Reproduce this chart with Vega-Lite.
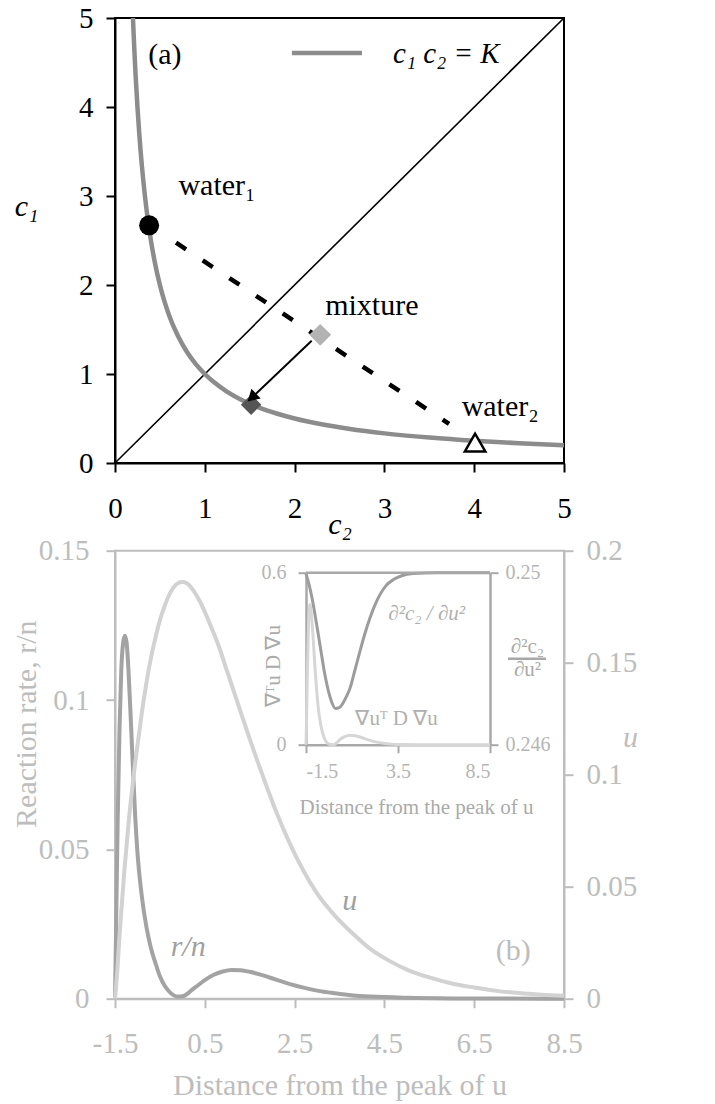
{
  "$schema": "https://vega.github.io/schema/vega-lite/v6.json",
  "background": "white",
  "padding": {"left": 10, "top": 3, "right": 0, "bottom": 4},
  "config": {
    "font": "Liberation Serif",
    "axis": {"grid": false, "titleFontWeight": "normal", "labelFont": "Liberation Serif", "titleFont": "Liberation Serif", "labelOverlap": false}
  },
  "bounds": "flush",
  "spacing": 87.7,
  "vconcat": [
    {
      "width": 449,
      "height": 445,
      "view": {"stroke": "black", "strokeWidth": 2},
      "layer": [
        {
          "data": {"values": [{"c2": 0, "c1": 0}, {"c2": 5, "c1": 5}]},
          "mark": {"type": "line", "color": "black", "strokeWidth": 1.6},
          "encoding": {
            "x": {"field": "c2", "type": "quantitative", "scale": {"domain": [0, 5], "nice": false},
              "axis": {"values": [0, 1, 2, 3, 4, 5], "format": "d", "domainColor": "black", "domainWidth": 2, "tickColor": "black", "tickWidth": 2, "tickSize": 9, "labelFontSize": 29, "labelColor": "black", "labelPadding": 22, "labelFlush": false, "title": "c₂", "titleFontSize": 30, "titleFontStyle": "italic", "titleColor": "black", "titleY": 61, "titleBaseline": "middle"}},
            "y": {"field": "c1", "type": "quantitative", "scale": {"domain": [0, 5], "nice": false},
              "axis": {"values": [0, 1, 2, 3, 4, 5], "format": "d", "domainColor": "black", "domainWidth": 2, "tickColor": "black", "tickWidth": 2, "tickSize": 9, "labelFontSize": 29, "labelColor": "black", "labelPadding": 13, "title": "c₁", "titleFontSize": 30, "titleFontStyle": "italic", "titleColor": "black", "titleAngle": 0, "titleX": -89, "titleY": 188, "titleAlign": "center", "titleBaseline": "middle"}}
          }
        },
        {
          "data": {"values": [
            {"c2": 0.2, "c1": 5}, {"c2": 0.21, "c1": 4.762}, {"c2": 0.22, "c1": 4.545}, {"c2": 0.23, "c1": 4.348},
            {"c2": 0.25, "c1": 4}, {"c2": 0.27, "c1": 3.704}, {"c2": 0.3, "c1": 3.333}, {"c2": 0.33, "c1": 3.03},
            {"c2": 0.36, "c1": 2.778}, {"c2": 0.4, "c1": 2.5}, {"c2": 0.45, "c1": 2.222}, {"c2": 0.5, "c1": 2},
            {"c2": 0.55, "c1": 1.818}, {"c2": 0.6, "c1": 1.667}, {"c2": 0.7, "c1": 1.429}, {"c2": 0.8, "c1": 1.25},
            {"c2": 0.9, "c1": 1.111}, {"c2": 1.0, "c1": 1}, {"c2": 1.1, "c1": 0.909}, {"c2": 1.25, "c1": 0.8},
            {"c2": 1.4, "c1": 0.714}, {"c2": 1.6, "c1": 0.625}, {"c2": 1.8, "c1": 0.556}, {"c2": 2.0, "c1": 0.5},
            {"c2": 2.3, "c1": 0.435}, {"c2": 2.6, "c1": 0.385}, {"c2": 3.0, "c1": 0.333}, {"c2": 3.5, "c1": 0.286},
            {"c2": 4.0, "c1": 0.25}, {"c2": 4.5, "c1": 0.222}, {"c2": 5.0, "c1": 0.2}
          ]},
          "mark": {"type": "line", "color": "#8c8c8c", "strokeWidth": 4.5, "interpolate": "monotone"},
          "encoding": {
            "x": {"field": "c2", "type": "quantitative"},
            "y": {"field": "c1", "type": "quantitative"}
          }
        },
        {
          "data": {"values": [{"c2": 1.97, "c1": 4.607}, {"c2": 2.75, "c1": 4.607}]},
          "mark": {"type": "line", "color": "#8c8c8c", "strokeWidth": 4.5},
          "encoding": {
            "x": {"field": "c2", "type": "quantitative"},
            "y": {"field": "c1", "type": "quantitative"}
          }
        },
        {
          "data": {"values": [{"c2": 0.68, "c1": 2.475}, {"c2": 3.72, "c1": 0.44}]},
          "mark": {"type": "line", "color": "black", "strokeWidth": 4.5, "strokeDash": [12, 20]},
          "encoding": {
            "x": {"field": "c2", "type": "quantitative"},
            "y": {"field": "c1", "type": "quantitative"}
          }
        },
        {
          "data": {"values": [{"c2": 2.19, "c1": 1.374, "c2end": 1.524, "c1end": 0.735}]},
          "mark": {"type": "rule", "color": "black", "strokeWidth": 2},
          "encoding": {
            "x": {"field": "c2", "type": "quantitative"},
            "y": {"field": "c1", "type": "quantitative"},
            "x2": {"field": "c2end"},
            "y2": {"field": "c1end"}
          }
        },
        {
          "data": {"values": [{"c2": 0.38, "c1": 2.67, "name": "water1"}]},
          "mark": {"type": "point", "shape": "circle", "filled": true, "color": "black", "size": 400, "opacity": 1},
          "encoding": {
            "x": {"field": "c2", "type": "quantitative"},
            "y": {"field": "c1", "type": "quantitative"}
          }
        },
        {
          "data": {"values": [{"c2": 2.285, "c1": 1.44, "name": "mixture"}]},
          "mark": {"type": "point", "shape": "diamond", "filled": true, "color": "#b3b3b3", "size": 480, "opacity": 1},
          "encoding": {
            "x": {"field": "c2", "type": "quantitative"},
            "y": {"field": "c1", "type": "quantitative"}
          }
        },
        {
          "data": {"values": [{"c2": 1.516, "c1": 0.655, "name": "equilibrium"}]},
          "mark": {"type": "point", "shape": "diamond", "filled": true, "color": "#555555", "size": 420, "opacity": 1},
          "encoding": {
            "x": {"field": "c2", "type": "quantitative"},
            "y": {"field": "c1", "type": "quantitative"}
          }
        },
        {
          "data": {"values": [{"c2": 1.524, "c1": 0.735, "name": "arrowhead"}]},
          "mark": {"type": "point", "shape": "triangle-up", "filled": true, "color": "black", "size": 180, "angle": 226.5, "opacity": 1},
          "encoding": {
            "x": {"field": "c2", "type": "quantitative"},
            "y": {"field": "c1", "type": "quantitative"}
          }
        },
        {
          "data": {"values": [{"c2": 4.01, "c1": 0.23, "name": "water2"}]},
          "mark": {"type": "point", "shape": "triangle-up", "filled": true, "fill": "white", "stroke": "black", "strokeWidth": 2.5, "size": 420, "opacity": 1},
          "encoding": {
            "x": {"field": "c2", "type": "quantitative"},
            "y": {"field": "c1", "type": "quantitative"}
          }
        },
        {
          "data": {"values": [
            {"c2": 0.37, "c1": 4.58, "label": "(a)"},
            {"c2": 0.706, "c1": 3.115, "label": "water₁"},
            {"c2": 2.34, "c1": 1.767, "label": "mixture"},
            {"c2": 3.86, "c1": 0.625, "label": "water₂"}
          ]},
          "mark": {"type": "text", "align": "left", "baseline": "middle", "fontSize": 30, "color": "black"},
          "encoding": {
            "x": {"field": "c2", "type": "quantitative"},
            "y": {"field": "c1", "type": "quantitative"},
            "text": {"field": "label"}
          }
        },
        {
          "data": {"values": [{"c2": 3.69, "c1": 4.59, "label": "c₁ c₂ = K"}]},
          "mark": {"type": "text", "align": "center", "baseline": "middle", "fontSize": 29, "fontStyle": "italic", "color": "black"},
          "encoding": {
            "x": {"field": "c2", "type": "quantitative"},
            "y": {"field": "c1", "type": "quantitative"},
            "text": {"field": "label"}
          }
        }
      ]
    },
    {
      "width": 449,
      "height": 448,
      "view": {"stroke": "#bdbdbd", "strokeWidth": 2},
      "resolve": {"scale": {"x": "independent", "y": "independent"}},
      "layer": [
        {
          "resolve": {"scale": {"y": "independent"}},
          "layer": [
            {
              "layer": [
                {
                  "data": {"values": [
                    {"x": -1.5, "r": 0}, {"x": -1.47, "r": 0.03}, {"x": -1.44, "r": 0.06}, {"x": -1.4, "r": 0.09},
                    {"x": -1.36, "r": 0.11}, {"x": -1.32, "r": 0.119}, {"x": -1.28, "r": 0.1215}, {"x": -1.24, "r": 0.119},
                    {"x": -1.2, "r": 0.11}, {"x": -1.15, "r": 0.094}, {"x": -1.1, "r": 0.077}, {"x": -1.05, "r": 0.061},
                    {"x": -1.0, "r": 0.049}, {"x": -0.9, "r": 0.034}, {"x": -0.8, "r": 0.024}, {"x": -0.7, "r": 0.017},
                    {"x": -0.6, "r": 0.012}, {"x": -0.5, "r": 0.0075}, {"x": -0.4, "r": 0.0045}, {"x": -0.3, "r": 0.0025},
                    {"x": -0.2, "r": 0.0012}, {"x": -0.1, "r": 0.0007}, {"x": 0, "r": 0.0008}, {"x": 0.1, "r": 0.0015},
                    {"x": 0.2, "r": 0.0028}, {"x": 0.35, "r": 0.0045}, {"x": 0.5, "r": 0.0062}, {"x": 0.7, "r": 0.008},
                    {"x": 0.9, "r": 0.0091}, {"x": 1.1, "r": 0.0096}, {"x": 1.3, "r": 0.0095}, {"x": 1.5, "r": 0.009},
                    {"x": 1.8, "r": 0.0078}, {"x": 2.1, "r": 0.0063}, {"x": 2.4, "r": 0.0049}, {"x": 2.7, "r": 0.0037},
                    {"x": 3.0, "r": 0.0027}, {"x": 3.4, "r": 0.0018}, {"x": 3.8, "r": 0.0011}, {"x": 4.2, "r": 0.0007},
                    {"x": 5.0, "r": 0.0003}, {"x": 6.0, "r": 0.0001}, {"x": 7.0, "r": 0.00005}, {"x": 8.5, "r": 0}
                  ]},
                  "mark": {"type": "line", "color": "#a3a3a3", "strokeWidth": 4, "interpolate": "monotone"},
                  "encoding": {
                    "x": {"field": "x", "type": "quantitative", "scale": {"domain": [-1.5, 8.5], "nice": false},
                      "axis": {"values": [-1.5, 0.5, 2.5, 4.5, 6.5, 8.5], "format": ".1f", "labelExpr": "replace(datum.label, '−', '-')", "domainColor": "#bdbdbd", "domainWidth": 2, "tickColor": "#bdbdbd", "tickWidth": 2, "tickSize": 9, "labelFontSize": 29, "labelColor": "#bdbdbd", "labelPadding": 22, "labelFlush": false, "title": "Distance from the peak of u", "titleFontSize": 30, "titleColor": "#bdbdbd", "titleY": 87, "titleBaseline": "middle"}},
                    "y": {"field": "r", "type": "quantitative", "scale": {"domain": [0, 0.15], "nice": false},
                      "axis": {"orient": "left", "values": [0, 0.05, 0.1, 0.15], "format": ".2~f", "domainColor": "#bdbdbd", "domainWidth": 2, "tickColor": "#bdbdbd", "tickWidth": 2, "tickSize": 9, "labelFontSize": 29, "labelColor": "#bdbdbd", "labelPadding": 17, "title": "Reaction rate, r/n", "titleFontSize": 30, "titleColor": "#bdbdbd", "titleAngle": 270, "titleX": -89, "titleY": 173, "titleAlign": "center", "titleBaseline": "middle"}}
                  }
                },
                {
                  "data": {"values": [{"x": 7.37, "r": 0.0161, "label": "(b)"}]},
                  "mark": {"type": "text", "align": "center", "baseline": "middle", "fontSize": 30, "color": "#bdbdbd"},
                  "encoding": {
                    "x": {"field": "x", "type": "quantitative"},
                    "y": {"field": "r", "type": "quantitative"},
                    "text": {"field": "label"}
                  }
                },
                {
                  "data": {"values": [{"x": 3.73, "r": 0.0328, "label": "u"}, {"x": 0.13, "r": 0.0172, "label": "r/n"}]},
                  "mark": {"type": "text", "align": "center", "baseline": "middle", "fontSize": 30, "fontStyle": "italic", "color": "#a0a0a0"},
                  "encoding": {
                    "x": {"field": "x", "type": "quantitative"},
                    "y": {"field": "r", "type": "quantitative"},
                    "text": {"field": "label"}
                  }
                }
              ]
            },
            {
              "data": {"values": [
                {"x": -1.5, "u": 0}, {"x": -1.45, "u": 0.012}, {"x": -1.4, "u": 0.028}, {"x": -1.3, "u": 0.055},
                {"x": -1.2, "u": 0.078}, {"x": -1.1, "u": 0.097}, {"x": -1.0, "u": 0.113}, {"x": -0.9, "u": 0.128},
                {"x": -0.8, "u": 0.141}, {"x": -0.7, "u": 0.152}, {"x": -0.6, "u": 0.161}, {"x": -0.5, "u": 0.169},
                {"x": -0.4, "u": 0.175}, {"x": -0.3, "u": 0.18}, {"x": -0.2, "u": 0.1835}, {"x": -0.1, "u": 0.1855},
                {"x": 0, "u": 0.186}, {"x": 0.1, "u": 0.1855}, {"x": 0.2, "u": 0.1835}, {"x": 0.4, "u": 0.177},
                {"x": 0.6, "u": 0.168}, {"x": 0.8, "u": 0.158}, {"x": 1.0, "u": 0.146}, {"x": 1.2, "u": 0.134},
                {"x": 1.5, "u": 0.116}, {"x": 1.8, "u": 0.099}, {"x": 2.1, "u": 0.083}, {"x": 2.4, "u": 0.069},
                {"x": 2.7, "u": 0.057}, {"x": 3.0, "u": 0.047}, {"x": 3.4, "u": 0.037}, {"x": 3.8, "u": 0.029},
                {"x": 4.2, "u": 0.022}, {"x": 4.6, "u": 0.017}, {"x": 5.0, "u": 0.013}, {"x": 5.5, "u": 0.0095},
                {"x": 6.0, "u": 0.0068}, {"x": 6.5, "u": 0.005}, {"x": 7.0, "u": 0.0035}, {"x": 7.5, "u": 0.0025},
                {"x": 8.0, "u": 0.0018}, {"x": 8.5, "u": 0.0013}
              ]},
              "mark": {"type": "line", "color": "#d2d2d2", "strokeWidth": 4, "interpolate": "monotone"},
              "encoding": {
                "x": {"field": "x", "type": "quantitative", "scale": {"domain": [-1.5, 8.5], "nice": false}},
                "y": {"field": "u", "type": "quantitative", "scale": {"domain": [0, 0.2], "nice": false},
                  "axis": {"orient": "right", "values": [0, 0.05, 0.1, 0.15, 0.2], "format": ".2~f", "domainColor": "#bdbdbd", "domainWidth": 2, "tickColor": "#bdbdbd", "tickWidth": 2, "tickSize": 9, "labelFontSize": 29, "labelColor": "#bdbdbd", "labelPadding": 13, "title": "u", "titleFontSize": 30, "titleFontStyle": "italic", "titleColor": "#bdbdbd", "titleAngle": 0, "titleX": 66, "titleY": 187, "titleAlign": "center", "titleBaseline": "middle"}}
              }
            }
          ]
        },
        {
          "resolve": {"scale": {"y": "independent"}},
          "layer": [
            {
              "layer": [
                {
                  "data": {"values": [
                    {"x": -1.5, "d": 0.24998}, {"x": -1.35, "d": 0.24975}, {"x": -1.19, "d": 0.24945}, {"x": -1.0, "d": 0.249},
                    {"x": -0.83, "d": 0.24856}, {"x": -0.65, "d": 0.24808}, {"x": -0.47, "d": 0.24762}, {"x": -0.3, "d": 0.24728},
                    {"x": -0.11, "d": 0.247}, {"x": 0.11, "d": 0.24684}, {"x": 0.3, "d": 0.24686}, {"x": 0.44, "d": 0.24692},
                    {"x": 0.65, "d": 0.24708}, {"x": 0.89, "d": 0.24731}, {"x": 1.15, "d": 0.24772}, {"x": 1.43, "d": 0.24817},
                    {"x": 1.7, "d": 0.24858}, {"x": 1.98, "d": 0.24895}, {"x": 2.25, "d": 0.24925}, {"x": 2.52, "d": 0.24949},
                    {"x": 2.85, "d": 0.2497}, {"x": 3.25, "d": 0.24984}, {"x": 3.7, "d": 0.24993}, {"x": 4.33, "d": 0.24998},
                    {"x": 5.6, "d": 0.25}, {"x": 8.5, "d": 0.25}
                  ]},
                  "mark": {"type": "line", "color": "#9c9c9c", "strokeWidth": 3, "interpolate": "monotone"},
                  "encoding": {
                    "x": {"field": "x", "type": "quantitative", "scale": {"domain": [-1.5, 8.5], "range": [191, 375], "nice": false}},
                    "y": {"field": "d", "type": "quantitative", "scale": {"domain": [0.246, 0.25], "range": [194, 22], "nice": false, "zero": false},
                      "axis": {"orient": "right", "offset": -74, "values": [0.246, 0.25], "format": ".3~f", "domainColor": "#a8a8a8", "domainWidth": 2.5, "tickColor": "#a8a8a8", "tickWidth": 2, "tickSize": 8, "labelFontSize": 20, "labelColor": "#b5b5b5", "labelPadding": 7, "title": ["∂²c₂", "∂u²"], "titleFontSize": 21, "titleLineHeight": 23, "titleColor": "#aaaaaa", "titleAngle": 0, "titleX": 37, "titleY": 96, "titleAlign": "center", "titleBaseline": "middle"}}
                  }
                },
                {
                  "data": {"values": [{"x": -1.5, "x2": 8.5, "d": 0.25}, {"x": 9.48, "x2": 11.54, "d": 0.248}]},
                  "mark": {"type": "rule", "color": "#a8a8a8", "strokeWidth": 2.5},
                  "encoding": {
                    "x": {"field": "x", "type": "quantitative", "scale": {"domain": [-1.5, 8.5], "range": [191, 375], "nice": false}},
                    "x2": {"field": "x2"},
                    "y": {"field": "d", "type": "quantitative", "scale": {"domain": [0.246, 0.25], "range": [194, 22], "nice": false, "zero": false}}
                  }
                },
                {
                  "data": {"values": [{"x": 5.06, "d": 0.24904, "label": "∂²c₂ / ∂u²"}]},
                  "mark": {"type": "text", "align": "center", "baseline": "middle", "fontSize": 21, "fontStyle": "italic", "color": "#b0b0b0"},
                  "encoding": {
                    "x": {"field": "x", "type": "quantitative"},
                    "y": {"field": "d", "type": "quantitative"},
                    "text": {"field": "label"}
                  }
                }
              ]
            },
            {
              "layer": [
                {
                  "data": {"values": [
                    {"x": -1.5, "g": 0}, {"x": -1.46, "g": 0.12}, {"x": -1.43, "g": 0.23}, {"x": -1.39, "g": 0.35},
                    {"x": -1.36, "g": 0.43}, {"x": -1.32, "g": 0.475}, {"x": -1.28, "g": 0.489}, {"x": -1.24, "g": 0.475},
                    {"x": -1.19, "g": 0.44}, {"x": -1.1, "g": 0.36}, {"x": -1.01, "g": 0.267}, {"x": -0.92, "g": 0.19},
                    {"x": -0.83, "g": 0.126}, {"x": -0.7, "g": 0.07}, {"x": -0.56, "g": 0.033}, {"x": -0.43, "g": 0.013},
                    {"x": -0.29, "g": 0.0035}, {"x": -0.15, "g": 0.0005}, {"x": 0, "g": 0}, {"x": 0.15, "g": 0.006},
                    {"x": 0.35, "g": 0.018}, {"x": 0.6, "g": 0.028}, {"x": 0.89, "g": 0.033}, {"x": 1.15, "g": 0.031},
                    {"x": 1.43, "g": 0.027}, {"x": 1.7, "g": 0.021}, {"x": 1.98, "g": 0.015}, {"x": 2.35, "g": 0.009},
                    {"x": 2.7, "g": 0.005}, {"x": 3.1, "g": 0.002}, {"x": 3.5, "g": 0.0005}, {"x": 4.5, "g": 0}, {"x": 8.5, "g": 0}
                  ]},
                  "mark": {"type": "line", "color": "#d6d6d6", "strokeWidth": 3, "interpolate": "monotone"},
                  "encoding": {
                    "x": {"field": "x", "type": "quantitative", "scale": {"domain": [-1.5, 8.5], "range": [191, 375], "nice": false},
                      "axis": {"orient": "bottom", "offset": -254, "values": [-1.5, 3.5, 8.5], "format": ".1f", "labelExpr": "replace(datum.label, '−', '-')", "labelFlush": true, "domainColor": "#a8a8a8", "domainWidth": 2.5, "tickColor": "#a8a8a8", "tickWidth": 2, "tickSize": 8, "labelFontSize": 20, "labelColor": "#b5b5b5", "labelPadding": 9, "title": "Distance from the peak of u", "titleFontSize": 21, "titleColor": "#aaaaaa", "titleX": 301, "titleY": 63, "titleBaseline": "middle"}},
                    "y": {"field": "g", "type": "quantitative", "scale": {"domain": [0, 0.6], "range": [194, 22], "nice": false},
                      "axis": {"orient": "left", "offset": -191, "values": [0, 0.6], "format": "~g", "domainColor": "#a8a8a8", "domainWidth": 2.5, "tickColor": "#a8a8a8", "tickWidth": 2, "tickSize": 8, "labelFontSize": 20, "labelColor": "#b5b5b5", "labelPadding": 12, "title": "∇ᵀu D ∇u", "titleFontSize": 21, "titleColor": "#aaaaaa", "titleAngle": 270, "titleX": -33, "titleY": 115, "titleAlign": "center", "titleBaseline": "middle"}}
                  }
                },
                {
                  "data": {"values": [{"x": 3.42, "g": 0.088, "label": "∇uᵀ D ∇u"}]},
                  "mark": {"type": "text", "align": "center", "baseline": "middle", "fontSize": 21, "color": "#b0b0b0"},
                  "encoding": {
                    "x": {"field": "x", "type": "quantitative"},
                    "y": {"field": "g", "type": "quantitative"},
                    "text": {"field": "label"}
                  }
                }
              ]
            }
          ]
        }
      ]
    }
  ]
}
